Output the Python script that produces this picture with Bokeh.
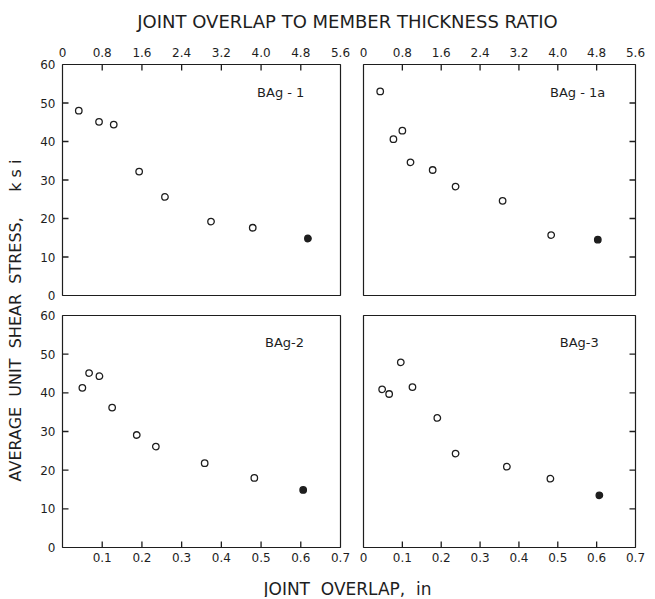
import numpy as np
from bokeh.plotting import figure
from bokeh.models import Range1d, LinearAxis, FixedTicker, Label, CustomLabelingPolicy
from bokeh.layouts import row, column
from bokeh.embed import file_html
from bokeh.resources import INLINE

# ---------------- data ----------------
bag1_x = [0.041, 0.092, 0.129, 0.193, 0.258, 0.374, 0.479, 0.618]
bag1_y = [48.0, 45.1, 44.4, 32.2, 25.6, 19.2, 17.6, 14.8]

bag1a_x = [0.043, 0.077, 0.100, 0.121, 0.178, 0.237, 0.358, 0.483, 0.603]
bag1a_y = [53.0, 40.6, 42.8, 34.6, 32.6, 28.3, 24.6, 15.7, 14.5]

bag2_x = [0.050, 0.067, 0.093, 0.125, 0.187, 0.235, 0.358, 0.483, 0.606]
bag2_y = [41.3, 45.1, 44.3, 36.2, 29.1, 26.1, 21.8, 18.0, 14.9]

bag3_x = [0.048, 0.066, 0.096, 0.126, 0.190, 0.237, 0.369, 0.481, 0.607]
bag3_y = [40.9, 39.7, 47.9, 41.5, 33.5, 24.3, 20.9, 17.8, 13.5]

panel_names = ["BAg - 1", "BAg - 1a", "BAg-2", "BAg-3"]

ratio_ticks = [0, 0.8, 1.6, 2.4, 3.2, 4.0, 4.8, 5.6]
ratio_labels = ["0", "0.8", "1.6", "2.4", "3.2", "4.0", "4.8", "5.6"]
overlap_ticks = [0, 0.1, 0.2, 0.3, 0.4, 0.5, 0.6, 0.7]
overlap_labels = ["0", "0.1", "0.2", "0.3", "0.4", "0.5", "0.6", "0.7"]
stress_ticks = [0, 10, 20, 30, 40, 50, 60]

NB = "\u00a0"
title_top = "JOINT OVERLAP TO MEMBER THICKNESS RATIO"
title_x = "JOINT" + NB * 2 + "OVERLAP," + NB * 2 + "in"
title_y = "AVERAGE" + NB * 2 + "UNIT" + NB * 2 + "SHEAR" + NB * 2 + "STRESS," + NB * 5 + "k" + NB + "s" + NB + "i"

# ---------------- styling ----------------
FONT = "DejaVu Sans"
INK = "#1e1e1e"
TICK_LEN = 6

HIDE_ALL = CustomLabelingPolicy(code="""
for (const i of indices) { indices.unset(i) }
return indices
""")


def hide_first():
    return CustomLabelingPolicy(code="""
for (const i of indices) { if (i == 0) indices.unset(i) }
return indices
""")


def style_axis(ax):
    ax.axis_line_color = None
    ax.major_tick_line_color = None   # ticks are drawn as inward rays below
    ax.minor_tick_line_color = None
    ax.major_tick_in = 0
    ax.major_tick_out = 0
    ax.major_label_text_font = FONT
    ax.major_label_text_color = INK
    ax.major_label_text_font_size = "12px"
    return ax


def inner_ticks(p, xs, ys, direction, x_range_name="default"):
    # short tick marks pointing into the frame, length given in screen pixels
    p.ray(x=xs, y=ys, length=TICK_LEN, length_units="screen", angle=direction,
          line_color=INK, line_width=1.3, x_range_name=x_range_name)


def panel(xs, ys, name, label_xy, width, height, borders, left, right, top, bottom,
          hide_x0=False):
    bl, br, bt, bb = borders
    p = figure(width=width, height=height,
               x_range=Range1d(0, 0.7), y_range=Range1d(0, 60),
               x_axis_location=None, y_axis_location=None,
               toolbar_location=None, output_backend="svg",
               min_border_left=bl, min_border_right=br,
               min_border_top=bt, min_border_bottom=bb)
    p.grid.grid_line_color = None
    p.outline_line_color = INK
    p.outline_line_width = 1.2
    p.background_fill_color = "white"
    p.border_fill_color = "white"

    inner_s = stress_ticks[1:-1]
    if top:
        p.extra_x_ranges = {"ratio": Range1d(0, 5.6)}
        ax = LinearAxis(x_range_name="ratio", ticker=FixedTicker(ticks=ratio_ticks),
                        major_label_overrides=dict(zip(ratio_ticks, ratio_labels)),
                        major_label_standoff=8)
        p.add_layout(style_axis(ax), "above")
        inner_r = ratio_ticks[1:-1]
        inner_ticks(p, inner_r, [p.y_range.end] * len(inner_r), -np.pi / 2, "ratio")
    if left:
        ax = LinearAxis(ticker=FixedTicker(ticks=stress_ticks), major_label_standoff=7)
        p.add_layout(style_axis(ax), "left")
        inner_ticks(p, [p.x_range.start] * len(inner_s), inner_s, 0.0)
    if right:
        ax = LinearAxis(ticker=FixedTicker(ticks=stress_ticks), major_label_standoff=0,
                        major_label_policy=HIDE_ALL)
        p.add_layout(style_axis(ax), "right")
        inner_ticks(p, [p.x_range.end] * len(inner_s), inner_s, np.pi)
    if bottom:
        ax = LinearAxis(ticker=FixedTicker(ticks=overlap_ticks),
                        major_label_overrides=dict(zip(overlap_ticks, overlap_labels)),
                        major_label_standoff=5)
        if hide_x0:
            ax.major_label_policy = hide_first()
        p.add_layout(style_axis(ax), "below")
        inner_o = overlap_ticks[1:-1]
        inner_ticks(p, inner_o, [p.y_range.start] * len(inner_o), np.pi / 2)

    # open circles for all but the last specimen, filled circle for the last
    p.scatter(xs[:-1], ys[:-1], marker="circle", size=6.5,
              fill_color="white", line_color=INK, line_width=1.3)
    p.scatter(xs[-1:], ys[-1:], marker="circle", size=6.5,
              fill_color=INK, line_color=INK, line_width=1.3)

    p.add_layout(Label(x=label_xy[0], y=label_xy[1], text=name,
                       text_font=FONT, text_font_size="13px", text_color=INK,
                       text_baseline="middle", text_align="left"))
    return p


def text_fig(w, h, text, x, y, angle=0.0, size="15px"):
    f = figure(width=w, height=h, x_range=Range1d(0, w), y_range=Range1d(0, h),
               x_axis_location=None, y_axis_location=None,
               toolbar_location=None, output_backend="svg", min_border=0)
    f.grid.grid_line_color = None
    f.outline_line_color = None
    f.add_layout(Label(x=x, y=y, text=text, angle=angle,
                       text_font=FONT, text_font_size=size, text_color=INK,
                       text_align="center", text_baseline="middle"))
    return f


YW = 28
LW, RW = 322, 303
TH, BH = 265, 265

p_tl = panel(bag1_x, bag1_y, panel_names[0], (0.49, 52.8), LW, TH, (34, 10, 24, 10),
             left=True, right=False, top=True, bottom=False)
p_tr = panel(bag1a_x, bag1a_y, panel_names[1], (0.48, 52.8), RW, TH, (13, 8, 24, 10),
             left=False, right=True, top=True, bottom=False)
p_bl = panel(bag2_x, bag2_y, panel_names[2], (0.51, 53), LW, BH, (34, 10, 10, 23),
             left=True, right=False, top=False, bottom=True, hide_x0=True)
p_br = panel(bag3_x, bag3_y, panel_names[3], (0.505, 53), RW, BH, (13, 8, 10, 23),
             left=False, right=True, top=False, bottom=True)

TOTAL_W = YW + LW + RW
f_title = text_fig(TOTAL_W, 40, title_top, 347, 19, size="18px")
f_ytitle = text_fig(YW, TH + BH, title_y, 15, 250, angle=np.pi / 2, size="16px")
f_xtitle = text_fig(TOTAL_W, 27, title_x, 347, 9, size="17px")

grid = column(row(p_tl, p_tr), row(p_bl, p_br))
layout = column(f_title, row(f_ytitle, grid), f_xtitle)

open("out.html", "w").write(file_html(layout, INLINE))
